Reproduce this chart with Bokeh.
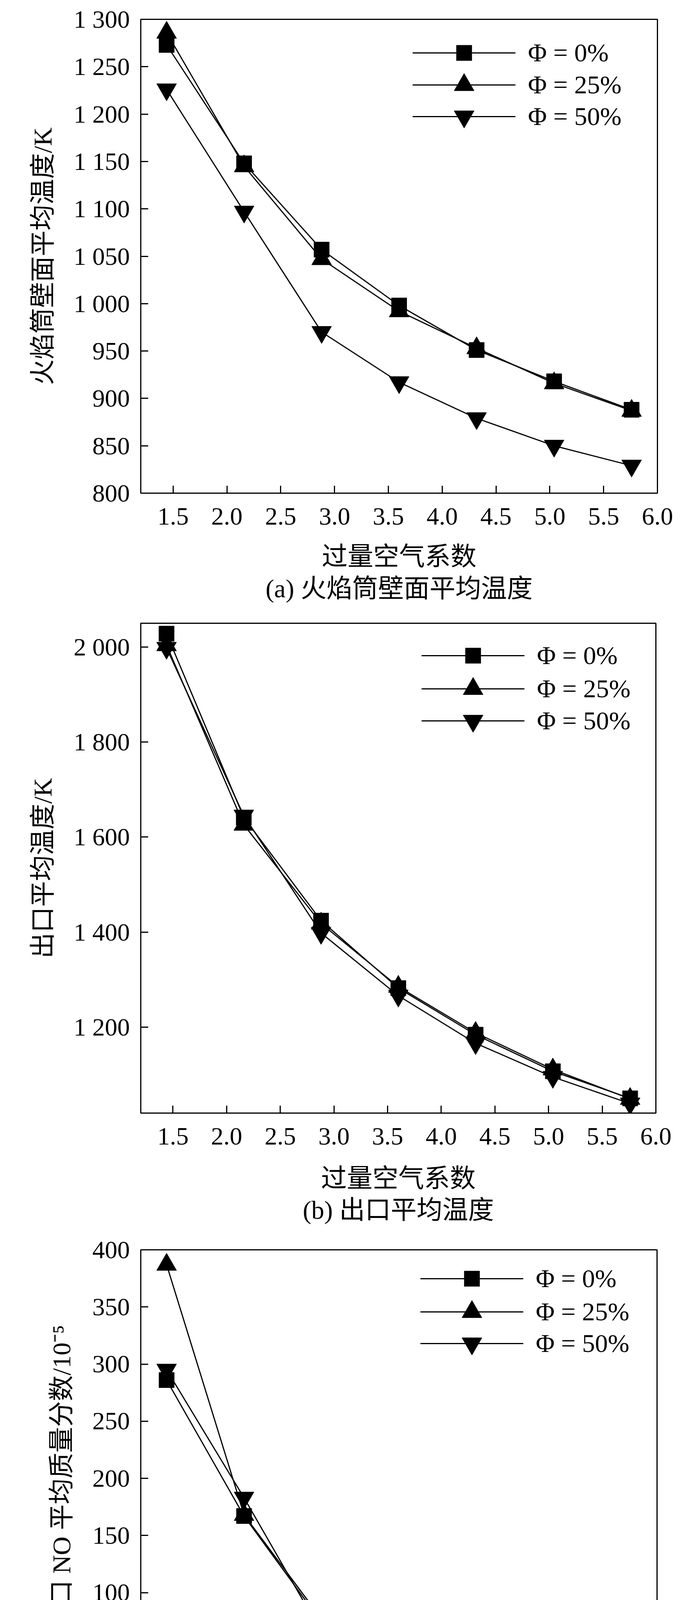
from bokeh.plotting import figure
from bokeh.models import Range1d, FixedTicker, Legend, LegendItem, Title
from bokeh.layouts import column
from bokeh.embed import file_html
from bokeh.resources import INLINE

# ---------------- data ----------------
x_vals = [1.44, 2.16, 2.88, 3.60, 4.32, 5.04, 5.76]
series_labels = ["Φ = 0%", "Φ = 25%", "Φ = 50%"]

a_phi0 = [1273, 1148, 1057, 998, 951, 918, 888]
a_phi25 = [1286, 1145, 1047, 992, 953, 916, 887]
a_phi50 = [1226, 1097, 970, 917, 879, 850, 829]

b_phi0 = [2028, 1641, 1424, 1282, 1184, 1107, 1050]
b_phi25 = [2004, 1626, 1418, 1285, 1188, 1111, 1049]
b_phi50 = [1998, 1645, 1398, 1266, 1166, 1095, 1039]

c_phi0 = [286, 167, 74, 37, 21, 11, 8]
c_phi25 = [387, 168, 77, 42, 26, 16, 10]
c_phi50 = [295, 183, 65, 29, 14, 9.5, 7]

x_ticks = [1.5, 2.0, 2.5, 3.0, 3.5, 4.0, 4.5, 5.0, 5.5, 6.0]
x_tick_labels = ["1.5", "2.0", "2.5", "3.0", "3.5", "4.0", "4.5", "5.0", "5.5", "6.0"]

a_y_ticks = [800, 850, 900, 950, 1000, 1050, 1100, 1150, 1200, 1250, 1300]
a_y_tick_labels = ["800", "850", "900", "950", "1 000", "1 050", "1 100",
                   "1 150", "1 200", "1 250", "1 300"]
b_y_ticks = [1200, 1400, 1600, 1800, 2000]
b_y_tick_labels = ["1 200", "1 400", "1 600", "1 800", "2 000"]
c_y_ticks = [0, 50, 100, 150, 200, 250, 300, 350, 400]
c_y_tick_labels = ["0", "50", "100", "150", "200", "250", "300", "350", "400"]

x_title = "过量空气系数"
a_y_title = "火焰筒壁面平均温度/K"
b_y_title = "出口平均温度/K"
c_y_title = "出口 NO 平均质量分数/10⁻⁵"
a_caption = "(a) 火焰筒壁面平均温度"
b_caption = "(b) 出口平均温度"
c_caption = "(c) 出口NO平均质量分数"

SERIF = "Liberation Serif"
MIXED = "Liberation Serif, Noto Sans CJK SC"

markers = ["square", "triangle", "inverted_triangle"]
marker_sizes = [39, 51, 51]
legend_gh = [98, 128, 128]


def make_panel(ys, y_range, yticks, ylabels, y_title, caption,
               frame_w, frame_h, b_left, b_right, b_top, b_bottom, rows,
               xlab_standoff, cap_standoff):
    p = figure(frame_width=frame_w, frame_height=frame_h,
               min_border_left=b_left, min_border_right=b_right,
               min_border_top=b_top, min_border_bottom=b_bottom,
               x_range=Range1d(1.2, 6.0), y_range=Range1d(*y_range),
               output_backend="svg", toolbar_location=None)
    p.grid.visible = False
    p.outline_line_color = "black"
    p.outline_line_width = 3
    p.background_fill_color = "white"
    p.border_fill_color = "white"

    for ax, ticks, labels in ((p.xaxis[0], x_ticks, x_tick_labels),
                              (p.yaxis[0], yticks, ylabels)):
        ax.ticker = FixedTicker(ticks=ticks, minor_ticks=[])
        ax.major_label_overrides = {t: l for t, l in zip(ticks, labels)}
        ax.major_tick_in = 19
        ax.major_tick_out = 0
        ax.minor_tick_in = 0
        ax.minor_tick_out = 0
        ax.major_tick_line_width = 3
        ax.axis_line_width = 3
        ax.major_label_text_font = SERIF
        ax.major_label_text_font_size = "64px"
        ax.major_label_text_color = "black"
        ax.axis_label_text_font = MIXED
        ax.axis_label_text_font_size = "66px"
        ax.axis_label_text_font_style = "normal"
        ax.axis_label_text_color = "black"

    p.xaxis.axis_label = x_title
    p.xaxis.major_label_standoff = 38
    p.xaxis.axis_label_standoff = xlab_standoff
    p.yaxis.axis_label = y_title
    p.yaxis.major_label_standoff = 28
    p.yaxis.axis_label_standoff = 40

    for i, yv in enumerate(ys):
        lr = p.line(x_vals, yv, line_color="black", line_width=3)
        sr = p.scatter(x_vals, yv, marker=markers[i], size=marker_sizes[i],
                       fill_color="black", line_color="black")
        gh = legend_gh[i]
        item = LegendItem(label=series_labels[i], renderers=[lr, sr])
        vy = frame_h - rows[i] - gh / 2
        leg = Legend(items=[item], location=(1064 - (b_left + 8), vy),
                     glyph_width=264, glyph_height=gh, label_standoff=32,
                     padding=0, spacing=0, margin=0,
                     label_text_font=SERIF, label_text_font_size="66px",
                     label_text_color="black",
                     border_line_color=None, background_fill_alpha=0)
        p.add_layout(leg)

    cap = Title(text=caption, align="center", offset=-16, standoff=cap_standoff,
                text_font=MIXED, text_font_size="66px", text_font_style="normal",
                text_color="black")
    p.add_layout(cap, "below")
    return p


pa = make_panel([a_phi0, a_phi25, a_phi50], (800, 1300), a_y_ticks, a_y_tick_labels,
                a_y_title, a_caption, 1323, 1213, 360, 73, 49, 290, [86, 168, 249],
                42, 8)
pb = make_panel([b_phi0, b_phi25, b_phi50], (1019, 2050), b_y_ticks, b_y_tick_labels,
                b_y_title, b_caption, 1319, 1254, 337, 100, 43, 298, [83, 168, 250],
                47, 7)
pc = make_panel([c_phi0, c_phi25, c_phi50], (0, 400), c_y_ticks, c_y_tick_labels,
                c_y_title, c_caption, 1322, 1170, 340, 94, 52, 296, [74, 159, 240],
                45, 8)

layout = column(pa, pb, pc, spacing=0)
open("out.html", "w").write(file_html(layout, INLINE))
